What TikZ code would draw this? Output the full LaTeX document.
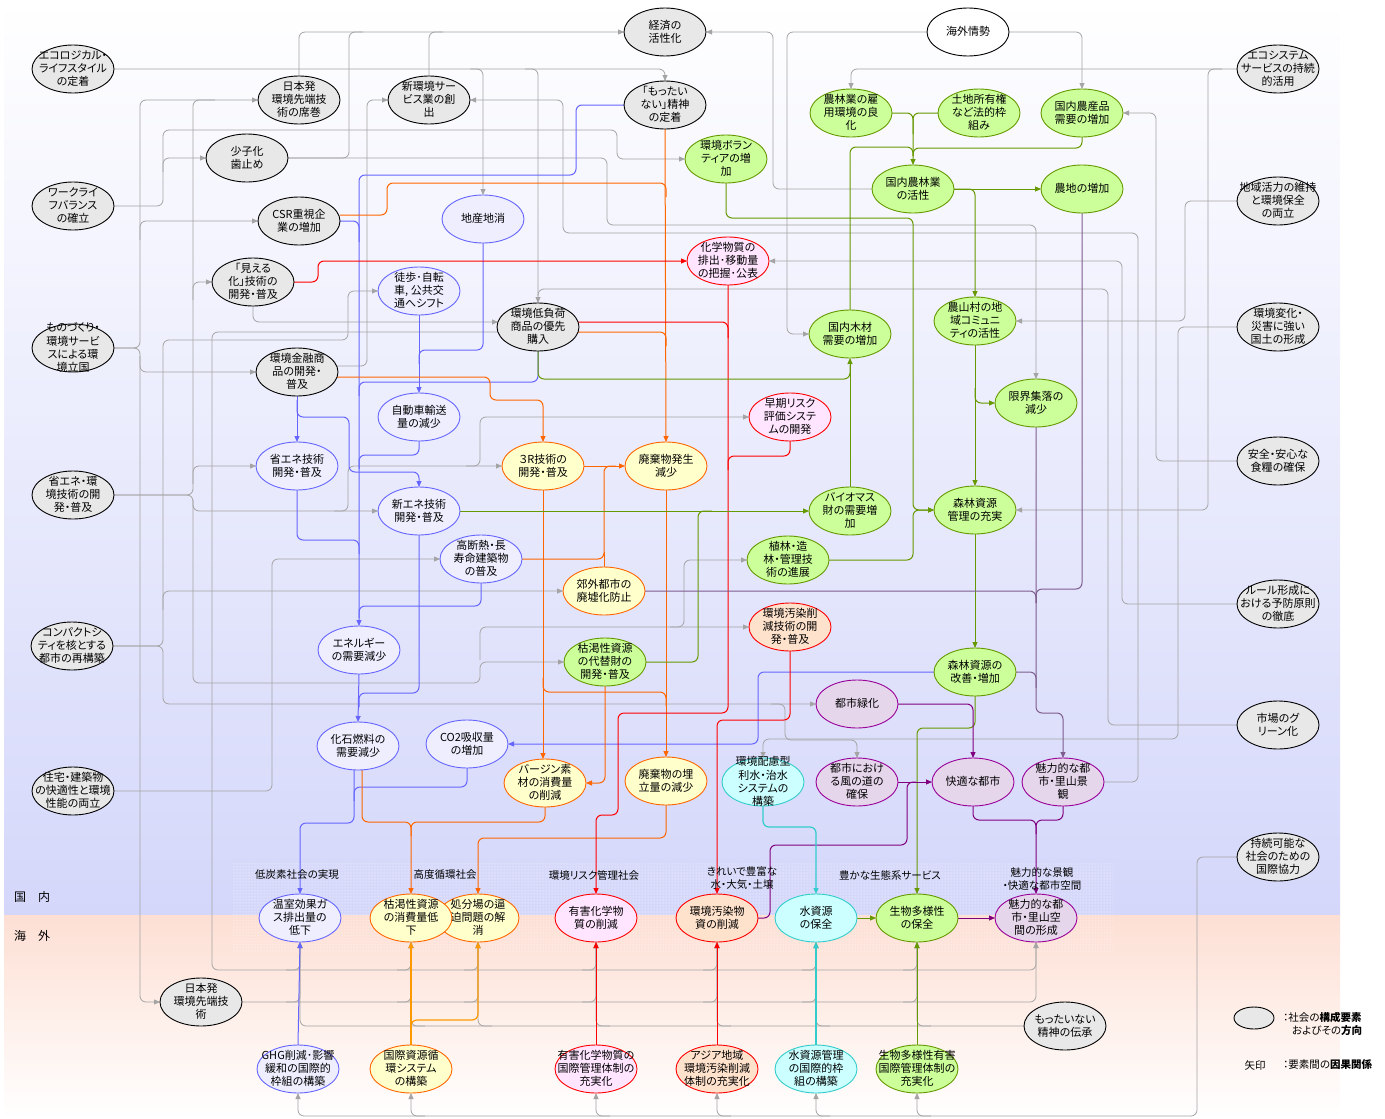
\documentclass[tikz,border=0pt]{standalone}
\usepackage{fontspec}
\setmainfont{Noto Sans CJK JP}[RawFeature=+palt]
\usetikzlibrary{arrows.meta,shapes.geometric,patterns}
\definecolor{lgray}{HTML}{A4A4A4}
\definecolor{lblue}{HTML}{6666FF}
\definecolor{lorg}{HTML}{FF6600}
\definecolor{lamb}{HTML}{FF9900}
\definecolor{lred}{HTML}{FF0000}
\definecolor{lgrn}{HTML}{669900}
\definecolor{lpur}{HTML}{800080}
\definecolor{lmauve}{HTML}{7E5C8E}
\definecolor{lcyan}{HTML}{33CCCC}
\definecolor{gfill}{HTML}{E8E8E8}
\definecolor{bfill}{HTML}{EEEEFF}
\definecolor{yfill}{HTML}{FFFFCC}
\definecolor{gnfill}{HTML}{CCFF99}
\definecolor{pkfill}{HTML}{FFE5FF}
\definecolor{pcfill}{HTML}{FFE2CC}
\definecolor{cyfill}{HTML}{CCFFFF}
\definecolor{pufill}{HTML}{E6D6EC}
\definecolor{pudraw}{HTML}{990099}
\definecolor{bgtop}{HTML}{D4D7FA}
\definecolor{bgbot}{HTML}{FDDFD4}
\newcommand\lbl[1]{\makebox[0pt]{\smash{\raisebox{-3.8pt}{\begin{tabular}{@{}c@{}}#1\end{tabular}}}}}
\pgfdeclarelayer{bg}
\pgfdeclarelayer{lines}
\pgfsetlayers{bg,lines,main}
\tikzset{
  base/.style={ellipse, line width=0.9pt, minimum width=82pt, minimum height=48pt, inner sep=0pt, outer sep=0pt, font=\fontsize{11}{13.2}\selectfont},
  soc/.style={base, draw=black, fill=gfill},
  wh/.style={base, draw=black, fill=white},
  bn/.style={base, draw=lblue, fill=bfill},
  yn/.style={base, draw=lorg, fill=yfill},
  gn/.style={base, draw=lgrn, fill=gnfill},
  pn/.style={base, draw=lred, fill=pkfill},
  cn/.style={base, draw=lred, fill=pcfill},
  qn/.style={base, draw=lcyan, fill=cyfill},
  un/.style={base, draw=pudraw, fill=pufill},
  ln/.style={rounded corners=6pt, line width=0.8pt, -{Triangle[length=6pt,width=5pt]}},
  gy/.style={ln, draw=lgray},
  bu/.style={ln, draw=lblue, line width=1pt},
  og/.style={ln, draw=lorg, line width=1pt},
  am/.style={ln, draw=lamb, line width=1.2pt},
  rd/.style={ln, draw=lred, line width=1pt},
  gr/.style={ln, draw=lgrn, line width=1pt},
  pu/.style={ln, draw=lpur, line width=1pt},
  mv/.style={ln, draw=lmauve, line width=1pt},
  cy/.style={ln, draw=lcyan, line width=1.2pt},
  cat/.style={font=\fontsize{10.5}{13.5}\selectfont, align=center, inner sep=0pt},
}
\begin{document}
\begin{tikzpicture}[x=1pt,y=-1pt]
\useasboundingbox (0,0) rectangle (1385,1119);
\begin{pgfonlayer}{bg}
  \shade[top color=white, bottom color=bgtop] (4,0) rectangle (1340,915);
  \shade[top color=bgbot, bottom color=white] (4,915) rectangle (1340,1119);
  \fill[pattern=dots, pattern color=white] (233,862) rectangle (1113,952);
\end{pgfonlayer}

% ---------------- nodes ----------------
\node[soc] (eco) at (73,69) {\lbl{エコロジカル・\\ライフスタイル\\の定着}};
\node[soc] (nihonA) at (299,100) {\lbl{日本発\\環境先端技\\術の席巻}};
\node[soc] (shinkan) at (429,100) {\lbl{新環境サー\\ビス業の創\\出}};
\node[soc] (shoshi) at (247,158) {\lbl{少子化\\歯止め}};
\node[soc] (wlb) at (73,206) {\lbl{ワークライ\\フバランス\\の確立}};
\node[soc] (csr) at (299,221) {\lbl{CSR重視企\\業の増加}};
\node[soc] (mieru) at (253,282) {\lbl{「見える\\化」技術の\\開発・普及}};
\node[soc] (monozukuri) at (73,348) {\lbl{ものづくり・\\環境サービ\\スによる環\\境立国}};
\node[soc] (kinyu) at (297,372) {\lbl{環境金融商\\品の開発・\\普及}};
\node[soc] (shoeneK) at (73,495) {\lbl{省エネ・環\\境技術の開\\発・普及}};
\node[soc] (compact) at (72,646) {\lbl{コンパクトシ\\ティを核とする\\都市の再構築}};
\node[soc] (jutaku) at (73,791) {\lbl{住宅・建築物\\の快適性と環境\\性能の両立}};
\node[soc] (nihonB) at (201,1002) {\lbl{日本発\\環境先端技\\術}};
\node[soc] (keizai) at (665,32) {\lbl{経済の\\活性化}};
\node[soc] (mottai) at (665,105) {\lbl{「もったい\\ない」精神\\の定着}};
\node[soc] (teifuka) at (538,327) {\lbl{環境低負荷\\商品の優先\\購入}};
\node[wh] (kaigai) at (968,32) {\lbl{海外情勢}};
\node[soc] (ecosys) at (1278,69) {\lbl{エコシステム\\サービスの持続\\的活用}};
\node[soc] (chiiki) at (1278,201) {\lbl{地域活力の維持\\と環境保全\\の両立}};
\node[soc] (henka) at (1278,327) {\lbl{環境変化・\\災害に強い\\国土の形成}};
\node[soc] (anzen) at (1278,461) {\lbl{安全・安心な\\食糧の確保}};
\node[soc] (rule) at (1278,604) {\lbl{ルール形成に\\おける予防原則\\の徹底}};
\node[soc] (market) at (1278,725) {\lbl{市場のグ\\リーン化}};
\node[soc] (jizoku) at (1278,857) {\lbl{持続可能な\\社会のための\\国際協力}};
\node[soc] (denshou) at (1065,1026) {\lbl{もったいない\\精神の伝承}};

\node[bn] (chisan) at (483,219) {\lbl{地産地消}};
\node[bn] (toho) at (419,291) {\lbl{徒歩･自転\\車, 公共交\\通へシフト}};
\node[bn] (jidosha) at (419,417) {\lbl{自動車輸送\\量の減少}};
\node[bn] (shoeneG) at (297,466) {\lbl{省エネ技術\\開発・普及}};
\node[bn] (shinene) at (419,511) {\lbl{新エネ技術\\開発・普及}};
\node[bn] (dannetsu) at (481,559) {\lbl{高断熱・長\\寿命建築物\\の普及}};
\node[bn] (energy) at (359,650) {\lbl{エネルギー\\の需要減少}};
\node[bn] (kaseki) at (358,746) {\lbl{化石燃料の\\需要減少}};
\node[bn] (co2) at (467,744) {\lbl{CO2吸収量\\の増加}};
\node[bn] (onshitsu) at (300,918) {\lbl{温室効果ガ\\ス排出量の\\低下}};
\node[bn] (ghg) at (298,1069) {\lbl{GHG削減･影響\\緩和の国際的\\枠組の構築}};

\node[yn] (r3) at (543,466) {\lbl{３R技術の\\開発・普及}};
\node[yn] (haikiH) at (666,466) {\lbl{廃棄物発生\\減少}};
\node[yn] (kogai) at (604,591) {\lbl{郊外都市の\\廃墟化防止}};
\node[yn] (virgin) at (545,783) {\lbl{バージン素\\材の消費量\\の削減}};
\node[yn] (umetate) at (666,781) {\lbl{廃棄物の埋\\立量の減少}};
\node[yn] (shobun) at (478,918) {\lbl{処分場の逼\\迫問題の解\\消}};
\node[yn] (kokatsu) at (411,918) {\lbl{枯渇性資源\\の消費量低\\下}};
\node[yn] (junkan) at (411,1069) {\lbl{国際資源循\\環システム\\の構築}};

\node[gn] (koyo) at (851,113) {\lbl{農林業の雇\\用環境の良\\化}};
\node[gn] (tochi) at (979,113) {\lbl{土地所有権\\など法的枠\\組み}};
\node[gn] (nousan) at (1082,113) {\lbl{国内農産品\\需要の増加}};
\node[gn] (volun) at (726,159) {\lbl{環境ボラン\\ティアの増\\加}};
\node[gn] (nourin) at (913,189) {\lbl{国内農林業\\の活性}};
\node[gn] (nouchi) at (1082,189) {\lbl{農地の増加}};
\node[gn] (mokuzai) at (850,334) {\lbl{国内木材\\需要の増加}};
\node[gn] (sanson) at (975,321) {\lbl{農山村の地\\域コミュニ\\ティの活性}};
\node[gn] (genkai) at (1036,403) {\lbl{限界集落の\\減少}};
\node[gn] (biomass) at (850,511) {\lbl{バイオマス\\財の需要増\\加}};
\node[gn] (shinrinK) at (975,510) {\lbl{森林資源\\管理の充実}};
\node[gn] (shokurin) at (788,560) {\lbl{植林・造\\林・管理技\\術の進展}};
\node[gn] (daitai) at (605,662) {\lbl{枯渇性資源\\の代替財の\\開発・普及}};
\node[gn] (shinrinZ) at (975,672) {\lbl{森林資源の\\改善・増加}};
\node[gn] (seibutsu) at (917,918) {\lbl{生物多様性\\の保全}};
\node[gn] (seibutsuI) at (917,1069) {\lbl{生物多様性有害\\国際管理体制の\\充実化}};

\node[pn] (kagaku) at (728,261) {\lbl{化学物質の\\排出･移動量\\の把握･公表}};
\node[pn] (souki) at (790,417) {\lbl{早期リスク\\評価システ\\ムの開発}};
\node[pn] (yugai) at (596,918) {\lbl{有害化学物\\質の削減}};
\node[pn] (yugaiI) at (596,1069) {\lbl{有害化学物質の\\国際管理体制の\\充実化}};

\node[cn] (osenG) at (790,627) {\lbl{環境汚染削\\減技術の開\\発・普及}};
\node[cn] (osenB) at (717,918) {\lbl{環境汚染物\\資の削減}};
\node[cn] (asia) at (717,1069) {\lbl{アジア地域\\環境汚染削減\\体制の充実化}};

\node[qn] (hairyo) at (763,782) {\lbl{環境配慮型\\利水・治水\\システムの\\構築}};
\node[qn] (mizu) at (816,918) {\lbl{水資源\\の保全}};
\node[qn] (mizuI) at (816,1069) {\lbl{水資源管理\\の国際的枠\\組の構築}};

\node[un] (ryokka) at (857,704) {\lbl{都市緑化}};
\node[un] (kaze) at (857,782) {\lbl{都市におけ\\る風の道の\\確保}};
\node[un] (kaiteki) at (973,782) {\lbl{快適な都市}};
\node[un] (miryokuK) at (1063,782) {\lbl{魅力的な都\\市・里山景\\観}};
\node[un] (miryokuS) at (1036,918) {\lbl{魅力的な都\\市・里山空\\間の形成}};

% legend and labels
\node[soc, minimum width=40pt, minimum height=22pt] (leg) at (1254,1018) {};
\node[cat, anchor=west] (legA) at (1283,1017) {：社会の\textbf{構成要素}};
\node[cat, anchor=west] (legB) at (1292,1031) {およびその\textbf{方向}};
\node[cat] (legC) at (1255,1065) {矢印};
\node[cat, anchor=west] (legD) at (1283,1065) {：要素間の\textbf{因果関係}};
\node[cat, font=\fontsize{12}{13}\selectfont] (kokunai) at (32,897) {国\hspace{1em}内};
\node[cat, font=\fontsize{12}{13}\selectfont] (kaigaiL) at (32,936) {海\hspace{1em}外};
\node[cat] (c1) at (297,875) {低炭素社会の実現};
\node[cat] (c2) at (445,875) {高度循環社会};
\node[cat] (c3) at (594,875) {環境リスク管理社会};
\node[cat] (c4) at (742,878) {きれいで豊富な\\水・大気・土壌};
\node[cat] (c5) at (890,875) {豊かな生態系サービス};
\node[cat] (c6) at (1042,879) {魅力的な景観\\・快適な都市空間};

% ---------------- connectors ----------------
\begin{pgfonlayer}{lines}
% gray
\draw[gy] (eco.east) -| (mottai.north);
\draw[gy] (470,69) -| (chisan.north);
\draw[gy] (525,69) -| (teifuka.north);
\draw[gy] (nihonA.north) |- (keizai.west);
\draw[gy,-] (shoshi.east) -- (349,158) |- (363,32);
\draw[gy,-] (shinkan.north) |- (443,32);
\draw[gy] (nourin.west) -- (773,189) |- (keizai.east);
\draw[gy] (kaigai.west) -- (787,32) |- (mokuzai.west);
\draw[gy] (kaigai.east) -| (nousan.north);
\draw[gy] (ecosys.west) -| (koyo.north);
\draw[gy] (1222,69) -| (1208,90) |- (shinrinK.east);
\draw[gy] (chiiki.west) -- (1185,201) |- (sanson.east);
\draw[gy] (henka.west) -- (1178,327) |- (763,739) -- (hairyo.north);
\draw[gy] (anzen.west) -- (1156,461) |- (nousan.east);
\draw[gy] (rule.west) -- (1122,604) |- (kagaku.east);
\draw[gy,-] (market.west) -- (1108,725) |- (538,289) -- (538,296);
\draw[gy] (miryokuK.east) -- (1138,782) |- (563,233) |- (shinkan.east);
\draw[gy] (shoshi.east) -- (607,158) |- (1036,225) -- (genkai.north);
\draw[gy] (wlb.east) -- (163,206) |- (617,130) |- (volun.west);
\draw[gy] (163,172) |- (shoshi.west);
\draw[gy] (monozukuri.east) -- (140,348) |- (nihonA.west);
\draw[gy] (140,240) |- (csr.west);
\draw[gy] (monozukuri.east) -- (140,348) |- (nihonB.west);
\draw[gy] (140,356) |- (kinyu.west);
\draw[gy,-] (shoeneK.east) -- (193,495) |- (215,100);
\draw[gy] (193,300) |- (mieru.west);
\draw[gy] (193,484) |- (shoeneG.west);
\draw[gy] (shoeneK.east) -- (193,495) |- (480,683) |- (daitai.west);
\draw[gy] (193,500) |- (shinene.west);
\draw[gy] (334,511) -| (348,482) |- (r3.west);
\draw[gy] (466,466) -| (480,440) |- (souki.west);
\draw[gy] (480,660) |- (osenG.west);
\draw[gy] (670,627) -| (684,600) |- (shokurin.west);
\draw[gy] (compact.east) -- (163,646) |- (348,340) |- (toho.west);
\draw[gy] (compact.east) -- (163,646) |- (ryokka.west);
\draw[gy] (163,610) |- (kogai.west);
\draw[gy] (771,704) -| (785,720) |- (857,740) -- (kaze.north);
\draw[gy] (jutaku.east) -- (272,791) |- (dannetsu.west);
\draw[gy] (mieru.south) |- (498,322);
\draw[gy] (337,366) -- (367,366) |- (shinkan.west);
\draw[gy] (498,332) -- (212,332) |- (1036,970) -- (miryokuS.south);
\draw[gy] (nihonB.east) -| (miryokuS.south);
\foreach \t/\x/\s in {onshitsu/300/286,kokatsu/411/397,shobun/478/464,yugai/596/582,osenB/717/703,mizu/816/802,seibutsu/917/903}{
  \draw[gy] (\s,970) -| (\t.south);
  \draw[gy] (\s,1002) -| (\t.south);
}
\draw[gy] (denshou.west) -| (onshitsu.south);
\foreach \t/\x/\s in {kokatsu/411/425,shobun/478/492,yugai/596/610,osenB/717/731,mizu/816/830,seibutsu/917/931}{
  \draw[gy] (\s,1026) -| (\t.south);
}
\draw[gy] (jizoku.west) -- (1197,857) |- (298,1116) -- (ghg.south);
\foreach \t/\x/\s in {junkan/411/425,yugaiI/596/610,asia/717/731,mizuI/816/830,seibutsuI/917/931}{
  \draw[gy] (\s,1116) -| (\t.south);
}
% blue
\draw[bu] (kinyu.south) -- (shoeneG.north);
\draw[bu] (297,400) |- (349,417) |- (419,472) -- (shinene.north);
\draw[bu] (toho.south) -- (jidosha.north);
\draw[bu,-] (chisan.south) |- (419,350) -- (419,364);
\draw[bu] (mottai.west) -- (576,105) |- (359,175) -- (energy.north);
\draw[bu,-] (csr.east) -| (359,242);
\draw[bu,-] (teifuka.south) |- (359,382) -- (359,396);
\draw[bu,-] (jidosha.south) |- (359,455) -- (359,469);
\draw[bu,-] (shoeneG.south) |- (359,540) -- (359,554);
\draw[bu,-] (dannetsu.south) |- (359,606) -- (359,618);
\draw[bu] (energy.south) -- (kaseki.north);
\draw[bu,-] (shinene.south) |- (359,693) -- (359,707);
\draw[bu] (354,770) |- (300,823) -- (onshitsu.north);
\draw[bu,-] (co2.south) |- (354,787) -- (354,801);
\draw[bu] (shinrinZ.west) -- (758,672) |- (co2.east);
\draw[bu] (ghg.north) -- (onshitsu.south);
% orange
\draw[og] (mottai.south) -- (haikiH.north);
\draw[og,-] (340,215) -- (387,215) |- (666,183) -- (666,197);
\draw[og,-] (578,332) -| (666,346);
\draw[og] (336,377) -- (490,377) |- (543,400) -- (r3.north);
\draw[og] (r3.east) -- (haikiH.west);
\draw[og,-] (dannetsu.east) -- (604,559) |- (616,466);
\draw[og,-] (kogai.north) -- (604,552);
\draw[og] (r3.south) -- (543,759);
\draw[og,-] (543,678) |- (666,692) -- (666,706);
\draw[og] (haikiH.south) -- (umetate.north);
\draw[og] (daitai.south) |- (virgin.east);
\draw[og] (362,770) |- (411,822) -- (kokatsu.north);
\draw[og,-] (virgin.south) |- (411,822) -- (411,836);
\draw[og] (umetate.south) |- (478,838) -- (shobun.north);
\draw[am] (junkan.north) -- (kokatsu.south);
\draw[am] (411,1030) |- (466,1020) -| (shobun.south);
% red
\draw[rd] (mieru.east) -- (318,282) |- (kagaku.west);
\draw[rd] (kagaku.south) |- (618,713) |- (596,815) -- (yugai.north);
\draw[rd,-] (souki.south) |- (728,456) -- (728,470);
\draw[rd,-] (578,322) -| (728,338);
\draw[rd] (osenG.south) |- (717,720) -- (osenB.north);
\draw[rd] (yugaiI.north) -- (yugai.south);
\draw[rd] (asia.north) -- (osenB.south);
% green
\draw[gr] (biomass.north) -- (mokuzai.south);
\draw[gr,-] (teifuka.south) |- (850,379) -- (850,365);
\draw[gr] (koyo.east) -| (nourin.north);
\draw[gr,-] (tochi.west) -| (913,134);
\draw[gr,-] (mokuzai.north) |- (913,147) -- (913,156);
\draw[gr,-] (nousan.south) |- (913,148) -- (913,156);
\draw[gr] (nourin.east) -- (nouchi.west);
\draw[gr] (nourin.east) -| (sanson.north);
\draw[gr] (volun.south) |- (913,218) |- (shinrinK.west);
\draw[gr] (shokurin.east) -- (913,560) |- (shinrinK.west);
\draw[gr] (sanson.south) -- (shinrinK.north);
\draw[gr] (975,388) |- (genkai.west);
\draw[gr] (shinrinK.south) -- (shinrinZ.north);
\draw[gr] (shinene.east) -- (biomass.west);
\draw[gr,-] (daitai.east) -- (698,662) |- (712,511);
\draw[gr] (shinrinZ.south) |- (917,728) -- (seibutsu.north);
\draw[gr] (mizu.east) -- (seibutsu.west);
\draw[gr] (seibutsuI.north) -- (seibutsu.south);
% purple
\draw[pu] (ryokka.east) -| (kaiteki.north);
\draw[pu] (kaze.east) -- (kaiteki.west);
\draw[pu,-] (osenB.east) -| (770,845) -| (907,782) -- (916,782);
\draw[pu] (kaiteki.south) |- (1036,820) -- (miryokuS.north);
\draw[pu,-] (miryokuK.south) |- (1036,820) -- (1036,834);
\draw[pu] (seibutsu.east) -- (miryokuS.west);
\draw[mv] (genkai.south) -- (1036,713) -| (miryokuK.north);
\draw[mv,-] (shinrinZ.east) -- (1036,672) -- (1036,688);
\draw[mv,-] (nouchi.south) |- (1036,589) -- (1036,603);
\draw[mv,-] (kogai.east) -| (1036,603);
% cyan
\draw[cy] (hairyo.south) |- (816,827) -- (mizu.north);
\draw[cy] (mizuI.north) -- (mizu.south);
\end{pgfonlayer}
\end{tikzpicture}
\end{document}
